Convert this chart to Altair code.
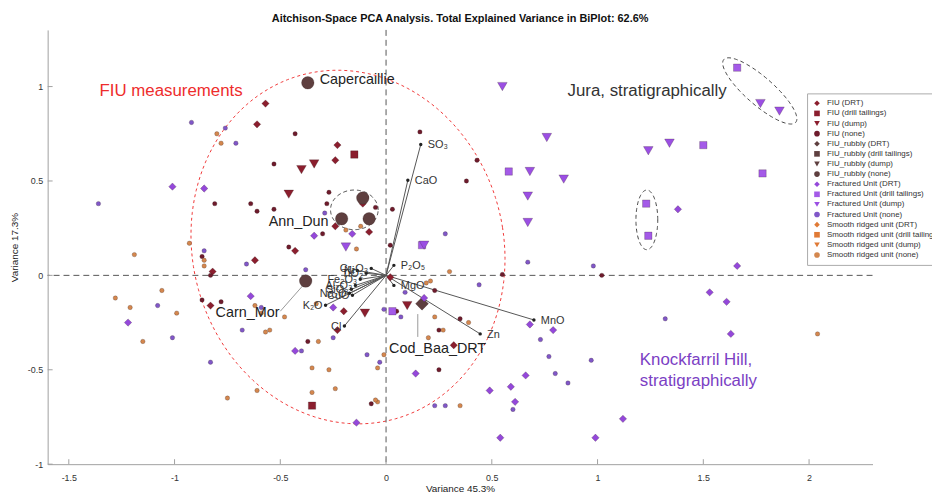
import numpy as np
import pandas as pd
import altair as alt

FONT = "Liberation Sans"

# ---------------- categories / styles ----------------
CATS = ["FIU (DRT)", "FIU (drill tailings)", "FIU (dump)", "FIU (none)",
        "FIU_rubbly (DRT)", "FIU_rubbly (drill tailings)", "FIU_rubbly (dump)", "FIU_rubbly (none)",
        "Fractured Unit (DRT)", "Fractured Unit (drill tailings)", "Fractured Unit (dump)", "Fractured Unit (none)",
        "Smooth ridged unit (DRT)", "Smooth ridged unit (drill tailings)", "Smooth ridged unit (dump)",
        "Smooth ridged unit (none)"]
COLORS = ["#8B1E2E", "#8B1E2E", "#8B1E2E", "#6E1B2C",
          "#5E3F3F", "#5E3F3F", "#5E3F3F", "#5E3F3F",
          "#9448DA", "#A45AE8", "#9B4FE3", "#8057C8",
          "#E07A35", "#E07A35", "#E07A35", "#D4874E"]
SHAPES = ["diamond", "square", "triangle-down", "circle"] * 4
SIZES = {"FIU (DRT)": 55, "FIU (drill tailings)": 55, "FIU (dump)": 95, "FIU (none)": 20,
         "FIU_rubbly (DRT)": 170, "FIU_rubbly (drill tailings)": 55, "FIU_rubbly (dump)": 95,
         "FIU_rubbly (none)": 160,
         "Fractured Unit (DRT)": 55, "Fractured Unit (drill tailings)": 55, "Fractured Unit (dump)": 95,
         "Fractured Unit (none)": 20,
         "Smooth ridged unit (DRT)": 55, "Smooth ridged unit (drill tailings)": 55,
         "Smooth ridged unit (dump)": 95, "Smooth ridged unit (none)": 20}

# ---------------- sample scores ----------------
fiu_drt_x = [-0.57, -0.61, -0.23, -0.24, -0.11, -0.24, -0.08, -0.43, -0.62, -0.82, -0.83, -0.20, -0.23, 0.02, 0.32]
fiu_drt_y = [0.91, 0.80, 0.69, 0.61, 0.38, 0.26, 0.23, 0.13, 0.08, 0.02, -0.16, -0.19, -0.29, -0.01, -0.37]
fiu_drill_x = [-0.15, -0.35]
fiu_drill_y = [0.64, -0.69]
fiu_dump_x = [-0.40, -0.34, -0.46, -0.10, 0.10]
fiu_dump_y = [0.56, 0.59, 0.43, -0.20, -0.16]
fiu_none_x = [-0.43, -0.53, -0.81, -0.64, -0.61, -0.53, -0.27, -0.28, -0.05, 0.03,
              0.16, -0.30, 0.43, 0.38, 0.02, -0.46, 0.23, 0.35, 0.25, 0.55,
              0.25, 0.05, -0.87, -0.83, -0.87, -0.78, -0.37, -0.07, 1.02]
fiu_none_y = [0.75, 0.59, 0.38, 0.38, 0.34, 0.35, 0.44, 0.38, 0.36, 0.35,
              0.76, 0.22, 0.61, 0.50, 0.16, 0.15, -0.08, -0.23, -0.29, 0.005,
              -0.50, -0.19, 0.10, 0.0, -0.13, -0.14, -0.35, -0.68, 0.0]
rub_drt_x = [0.17]
rub_drt_y = [-0.15]
rub_none_x = [-0.37, -0.11, -0.21, -0.08, -0.38]
rub_none_y = [1.02, 0.41, 0.30, 0.30, -0.03]
fr_drt_x = [1.38, 1.66, 1.53, 1.61, 1.63, 0.68, 0.79, 0.66, 0.14, 0.49, 0.59, 0.61, 1.12, 0.54, 0.99,
            0.18, -1.01, -0.86, -0.64, -1.22, -0.14, -0.43, -0.25, -0.34, -0.16]
fr_drt_y = [0.35, 0.05, -0.09, -0.14, -0.31, -0.26, -0.29, -0.53, -0.52, -0.61, -0.59, -0.67, -0.76, -0.86, -0.86,
            -0.12, 0.47, 0.46, -0.11, -0.25, -0.78, -0.40, -0.17, 0.21, 0.22]
fr_drill_x = [1.66, 1.50, 0.58, 1.78, 1.23, 1.24, 0.17, 0.03]
fr_drill_y = [1.10, 0.69, 0.55, 0.54, 0.38, 0.21, 0.16, -0.19]
fr_dump_x = [0.55, 1.77, 1.86, 0.76, 1.34, 1.24, 0.68, 0.84, 0.67, 0.67, -0.19, 0.18]
fr_dump_y = [1.00, 0.91, 0.87, 0.73, 0.70, 0.66, 0.55, 0.51, 0.42, 0.28, 0.15, 0.16]
fr_none_x = [0.67, 0.98, 0.44, 1.32, 0.73, 0.77, 0.97, 0.80, 0.86, 0.60,
             0.23, 0.28, -0.03, -0.01, 0.07, 0.09, 0.28, -0.38, -0.92, -0.76,
             -0.71, -0.29, -1.36, -0.86, -0.66, -1.08, -1.01, -0.68, -0.83, -0.59,
             -0.40, -0.09, -0.25]
fr_none_y = [0.07, 0.05, -0.05, -0.23, -0.34, -0.43, -0.45, -0.52, -0.57, -0.71,
             -0.69, -0.69, -0.46, -0.18, -0.22, -0.09, 0.22, 0.03, 0.81, 0.78,
             0.70, 0.33, 0.38, 0.13, 0.06, -0.16, -0.33, -0.29, -0.46, -0.17,
             -0.40, -0.42, -0.33]
sm_none_x = [-0.93, -1.19, -0.86, -0.86, -1.06, -1.28, -1.21, -0.99, -1.15, -0.62,
             -0.59, -0.48, -0.57, -0.55, -0.75, -0.61, -0.80, -0.78, -0.19, -0.12,
             -0.14, 0.21, 0.30, 0.19, 0.23, 0.27, 0.20, 0.39, -0.01, 0.35,
             -0.04, -0.32, -0.35, -0.27, -0.24, -0.35, -0.04, -0.05, -0.33, 2.04]
sm_none_y = [0.17, 0.11, 0.08, 0.05, -0.08, -0.12, -0.17, -0.20, -0.35, -0.16,
             -0.20, -0.22, -0.30, -0.29, -0.65, -0.61, 0.75, 0.70, 0.24, 0.26,
             0.14, -0.03, 0.02, -0.04, -0.22, -0.29, -0.33, -0.25, -0.42, -0.69,
             -0.67, -0.35, -0.49, -0.50, -0.60, -0.62, -0.49, -0.66, -0.15, -0.31]

groups = [("FIU (DRT)", fiu_drt_x, fiu_drt_y), ("FIU (drill tailings)", fiu_drill_x, fiu_drill_y),
          ("FIU (dump)", fiu_dump_x, fiu_dump_y), ("FIU (none)", fiu_none_x, fiu_none_y),
          ("FIU_rubbly (DRT)", rub_drt_x, rub_drt_y), ("FIU_rubbly (none)", rub_none_x, rub_none_y),
          ("Fractured Unit (DRT)", fr_drt_x, fr_drt_y), ("Fractured Unit (drill tailings)", fr_drill_x, fr_drill_y),
          ("Fractured Unit (dump)", fr_dump_x, fr_dump_y), ("Fractured Unit (none)", fr_none_x, fr_none_y),
          ("Smooth ridged unit (none)", sm_none_x, sm_none_y)]
rows = []
for cat, xs, ys in groups:
    for a, b in zip(xs, ys):
        rows.append({"x": a, "y": b, "cat": cat, "sz": SIZES[cat]})
# legend-only placeholders (outside visible domain) so every category appears
for cat in CATS:
    rows.append({"x": -9, "y": -9, "cat": cat, "sz": 0})
pts = pd.DataFrame(rows)

# ---------------- loadings ----------------
load_lab = ["SO₃", "CaO", "P₂O₅", "MgO", "MnO", "Zn", "Cl", "K₂O",
            "Ni", "Cr₂O₃", "TiO₂", "Fe₂O₃", "Al₂O₃", "SiO₂", "Na₂O", "CuO"]
load_x = [0.164, 0.103, 0.037, 0.037, 0.699, 0.445, -0.197, -0.286,
          -0.136, -0.070, -0.094, -0.122, -0.145, -0.164, -0.173, -0.159]
load_y = [0.693, 0.504, 0.053, -0.053, -0.236, -0.310, -0.268, -0.158,
          0.026, 0.037, 0.011, -0.021, -0.053, -0.074, -0.095, -0.105]
loads = pd.DataFrame({"lab": load_lab, "x": load_x, "y": load_y, "ox": 0.0, "oy": 0.0})

# ---------------- annotations ----------------
samp_lab = ["Capercaillie", "Carn_Mor", "Cod_Baa_DRT"]
samp_x = [-0.314, -0.806, 0.014]
samp_y = [1.035, -0.20, -0.389]
ann_lab = ["Ann_Dun"]
ann_x = [-0.272]
ann_y = [0.284]
lead_x = [-0.50, 0.15]
lead_y = [-0.19, -0.205]
lead_x2 = [-0.39, 0.15]
lead_y2 = [-0.05, -0.326]

xticks = [-1.5, -1, -0.5, 0, 0.5, 1, 1.5, 2]
yticks = [-1, -0.5, 0, 0.5, 1]


def ellipse(name, cx, cy, a, b, phi_deg):
    t = np.linspace(0, 2 * np.pi, 145)
    phi = np.deg2rad(phi_deg)
    ex = cx + a * np.cos(t) * np.cos(phi) - b * np.sin(t) * np.sin(phi)
    ey = cy + a * np.cos(t) * np.sin(phi) + b * np.sin(t) * np.cos(phi)
    return pd.DataFrame({"x": ex, "y": ey, "i": np.arange(len(t)), "e": name})


red_ell = ellipse("fiu", -0.180, 0.150, 0.738, 0.94, 8)
gray_ell = pd.concat([ellipse("ann", -0.150, 0.347, 0.1125, 0.105, 0),
                      ellipse("small", 1.233, 0.294, 0.0516, 0.158, 0),
                      ellipse("jura", 1.767, 0.977, 0.238, 0.070, -45)])

# ---------------- scales / axes ----------------
XS = alt.Scale(domain=[-1.6, 2.3], nice=False, zero=False)
YS = alt.Scale(domain=[-1.0, 1.3], nice=False, zero=False)
XAX = alt.Axis(values=xticks, title="Variance 45.3%", ticks=False, grid=False, labelExpr="datum.value + ''",
               labelPadding=9, titlePadding=2, domainColor="#a0a0a0", labelColor="#333", labelFontSize=9,
               titleFontSize=10, titleFontWeight="normal", titleColor="#222", labelFont=FONT, titleFont=FONT)
YAX = alt.Axis(values=yticks, title="Variance 17.3%", ticks=False, grid=False, labelExpr="datum.value + ''",
               labelPadding=5, titlePadding=8, domainColor="#a0a0a0", labelColor="#333", labelFontSize=9,
               titleFontSize=10, titleFontWeight="normal", titleColor="#222", labelFont=FONT, titleFont=FONT)


def X(f):
    return alt.X(f, type="quantitative", scale=XS, axis=XAX)


def Y(f):
    return alt.Y(f, type="quantitative", scale=YS, axis=YAX)


base_red = alt.Chart(red_ell).mark_line(color="#F03A3A", strokeDash=[3, 3], strokeWidth=1, clip=True).encode(
    x=X("x"), y=Y("y"), order="i:Q")
base_gray = alt.Chart(gray_ell).mark_line(color="#444", strokeDash=[4, 3], strokeWidth=1).encode(
    x=X("x"), y=Y("y"), detail="e:N", order="i:Q")

zx = alt.Chart(pd.DataFrame({"v": [0.0]})).mark_rule(color="#555", strokeDash=[6, 4], strokeWidth=1).encode(x=X("v"))
zy = alt.Chart(pd.DataFrame({"v": [0.0]})).mark_rule(color="#555", strokeDash=[6, 4], strokeWidth=1).encode(y=Y("v"))

xt = alt.Chart(pd.DataFrame({"v": xticks})).mark_rule(color="#a0a0a0").encode(
    x=X("v"), y=alt.value(438), y2=alt.value(433))
yt = alt.Chart(pd.DataFrame({"v": yticks})).mark_rule(color="#a0a0a0").encode(
    y=Y("v"), x=alt.value(0), x2=alt.value(5))

lines = alt.Chart(loads).mark_rule(color="#555", strokeWidth=1).encode(
    x=X("ox"), y=Y("oy"), x2="x", y2="y")
leads = alt.Chart(pd.DataFrame({"x": lead_x, "y": lead_y, "x2": lead_x2, "y2": lead_y2})).mark_rule(
    color="#999", strokeWidth=1).encode(x=X("x"), y=Y("y"), x2="x2", y2="y2")

legend = alt.Legend(title=None, orient="none", legendX=766, legendY=64, labelFont=FONT, labelFontSize=8,
                    labelColor="#333", symbolSize=32, rowPadding=2.2, padding=6, strokeColor="#aaa",
                    fillColor="white", labelLimit=300, symbolStrokeWidth=0, labelOffset=6, offset=0)
points = alt.Chart(pts).mark_point(filled=True, opacity=1, stroke="#2a1a1a", strokeWidth=0.4,
                                   strokeOpacity=0.6, clip=True).encode(
    x=X("x"), y=Y("y"),
    color=alt.Color("cat:N", scale=alt.Scale(domain=CATS, range=COLORS), legend=legend),
    shape=alt.Shape("cat:N", scale=alt.Scale(domain=CATS, range=SHAPES), legend=legend),
    size=alt.Size("sz:Q", scale=None, legend=None))

ldots = alt.Chart(loads).mark_circle(color="#222", size=12, opacity=1).encode(x=X("x"), y=Y("y"))
pos = loads[loads["x"] > 0]
neg = loads[loads["x"] <= 0]
ltxt_p = alt.Chart(pos).mark_text(align="left", baseline="middle", dx=7, dy=1, font=FONT, fontSize=11,
                                  color="#333").encode(x=X("x"), y=Y("y"), text="lab:N")
ltxt_n = alt.Chart(neg).mark_text(align="right", baseline="middle", dx=-3, dy=1, font=FONT, fontSize=11,
                                  color="#333").encode(x=X("x"), y=Y("y"), text="lab:N")

stxt = alt.Chart(pd.DataFrame({"t": samp_lab, "x": samp_x, "y": samp_y})).mark_text(
    align="left", baseline="middle", font=FONT, fontSize=14.5, color="#222").encode(x=X("x"), y=Y("y"), text="t:N")
atxt = alt.Chart(pd.DataFrame({"t": ann_lab, "x": ann_x, "y": ann_y})).mark_text(
    align="right", baseline="middle", font=FONT, fontSize=14.5, color="#222").encode(x=X("x"), y=Y("y"), text="t:N")

fiu_t = alt.Chart(pd.DataFrame({"t": ["FIU measurements"], "x": [-1.355], "y": [0.977]})).mark_text(
    align="left", baseline="middle", font=FONT, fontSize=17, color="#EE2C2C").encode(x=X("x"), y=Y("y"), text="t:N")
jura_t = alt.Chart(pd.DataFrame({"t": ["Jura, stratigraphically"], "x": [0.858], "y": [0.977]})).mark_text(
    align="left", baseline="middle", font=FONT, fontSize=17, color="#333").encode(x=X("x"), y=Y("y"), text="t:N")
kh_t = alt.Chart(pd.DataFrame({"t": ["Knockfarril Hill,", "stratigraphically"], "x": [1.20, 1.20],
                               "y": [-0.45, -0.56]})).mark_text(
    align="left", baseline="middle", font=FONT, fontSize=17, color="#7B40C4").encode(x=X("x"), y=Y("y"), text="t:N")

chart = alt.layer(base_red, base_gray, zx, zy, xt, yt, lines, leads, points, ldots, ltxt_p, ltxt_n,
                  stxt, atxt, fiu_t, jura_t, kh_t).properties(
    width=832, height=438,
    title=alt.TitleParams("Aitchison-Space PCA Analysis. Total Explained Variance in BiPlot: 62.6%",
                          fontSize=11, font=FONT, fontWeight="bold", color="#111", offset=6, anchor="middle"),
    padding={"left": 40, "top": 20, "right": 60, "bottom": 32},
    autosize=alt.AutoSizeParams(type="none"),
).configure_view(stroke=None)

chart.save("out.html", embed_options={"renderer": "svg", "actions": False})
